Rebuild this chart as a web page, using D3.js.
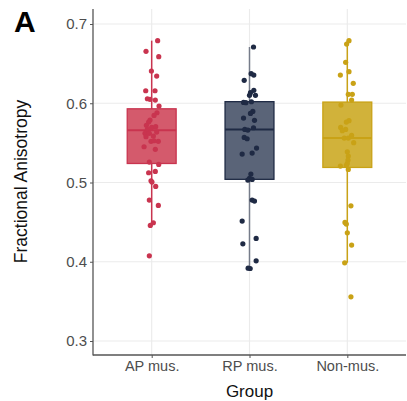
<!DOCTYPE html>
<html>
<head>
<meta charset="utf-8">
<script src="https://cdn.jsdelivr.net/npm/d3@7"></script>
<style>
  body { margin: 0; background: #fff; }
  text { font-family: "Liberation Sans", Arial, sans-serif; }
</style>
</head>
<body>
<script>
const w = 407;
const h = 401;

// groups and colours
const groups = ["AP mus.", "RP mus.", "Non-mus."];
const fills = ["#d45a6c", "#5a6478", "#d1b23a"];
const strokes = ["#c9344f", "#1f2a44", "#c9a216"];
const whiskerCols = ["#c9344f", "#767c8a", "#c9a216"];

// box statistics
const q1 = [0.524, 0.504, 0.519];
const med = [0.566, 0.567, 0.556];
const q3 = [0.593, 0.602, 0.6015];
const wLo = [0.446, 0.3915, 0.3987];
const wHi = [0.679, 0.671, 0.679];

// points: values and horizontal jitter (category units)
const apVals = [0.679, 0.6655, 0.6588, 0.6407, 0.6343, 0.6158, 0.6158, 0.6057, 0.6049, 0.604, 0.5965, 0.588, 0.5847, 0.5788, 0.5763, 0.5721, 0.5695, 0.5704, 0.567, 0.562, 0.562, 0.5636, 0.5578, 0.5586, 0.5519, 0.5519, 0.5527, 0.5451, 0.5418, 0.5258, 0.5228, 0.514, 0.5123, 0.5022, 0.5005, 0.495, 0.4778, 0.4711, 0.4492, 0.4458, 0.4075];
const apJit = [0.061, -0.058, 0.072, -0.003, 0.051, -0.061, 0.034, -0.044, -0.017, 0.037, 0.075, 0.054, 0.024, -0.017, -0.031, -0.054, 0, 0.041, -0.044, -0.068, -0.024, 0.051, -0.058, 0.017, 0.068, -0.007, 0.024, -0.078, 0.037, -0.024, 0.072, 0.037, -0.031, -0.007, 0.003, 0.041, -0.024, 0.068, 0.017, -0.014, -0.024];
const rpVals = [0.671, 0.6373, 0.6356, 0.6289, 0.6163, 0.6133, 0.61, 0.61, 0.6011, 0.6019, 0.6007, 0.5897, 0.5872, 0.5813, 0.5784, 0.567, 0.5662, 0.5691, 0.5569, 0.5552, 0.5434, 0.5359, 0.5371, 0.5106, 0.5051, 0.503, 0.5039, 0.4778, 0.4765, 0.4513, 0.4226, 0.4294, 0.4012, 0.3919, 0.3915];
const rpJit = [0.041, 0.017, 0.044, -0.054, 0.044, 0.01, 0.061, 0, -0.061, 0.02, -0.037, 0.034, 0.01, -0.061, 0.051, -0.048, -0.017, 0.041, -0.054, -0.024, 0.072, -0.075, 0.027, 0.014, 0, -0.017, 0.027, 0.027, 0.051, -0.075, -0.068, 0.068, 0.068, -0.014, 0.007];
const nmVals = [0.6747, 0.679, 0.6516, 0.6356, 0.6398, 0.6251, 0.6112, 0.6112, 0.604, 0.5977, 0.578, 0.5763, 0.5695, 0.567, 0.5653, 0.5594, 0.5561, 0.5561, 0.5502, 0.5388, 0.5333, 0.5283, 0.5241, 0.5207, 0.5215, 0.5165, 0.4706, 0.4496, 0.4475, 0.4365, 0.421, 0.3987, 0.3557];
const nmJit = [-0.007, 0.017, -0.017, -0.071, 0.017, 0.061, 0.01, 0.051, 0.044, -0.065, 0.017, -0.01, -0.068, -0.017, -0.051, 0.044, -0.031, 0.01, 0.065, 0, 0.01, 0.007, 0, -0.071, -0.01, 0.01, 0.037, -0.024, -0.01, 0, 0.044, -0.027, 0.037];

const yTicks = [0.3, 0.4, 0.5, 0.6, 0.7];

const plotLeft = 93, plotRight = 406, plotTop = 9, plotBottom = 355;

const svg = d3.select("body").append("svg").attr("width", w).attr("height", h);

// scales
const yScale = d3.scaleLinear().domain([0.3, 0.7]).range([341, 24]);
const xScale = d3.scaleLinear().domain([0.4, 3.6]).range([plotLeft, plotRight]);
const step = xScale(2) - xScale(1);

// grid
svg.append("g")
  .selectAll("line")
  .data(yTicks)
  .enter()
  .append("line")
  .attr("x1", plotLeft).attr("x2", plotRight)
  .attr("y1", (d) => yScale(d)).attr("y2", (d) => yScale(d))
  .attr("stroke", "#ebebeb").attr("stroke-width", 1.1);

svg.append("g")
  .selectAll("line")
  .data(groups)
  .enter()
  .append("line")
  .attr("x1", (d, i) => xScale(i + 1)).attr("x2", (d, i) => xScale(i + 1))
  .attr("y1", plotTop).attr("y2", plotBottom)
  .attr("stroke", "#ebebeb").attr("stroke-width", 1.1);

// whiskers
svg.append("g")
  .selectAll("line")
  .data(groups)
  .enter()
  .append("line")
  .attr("x1", (d, i) => xScale(i + 1)).attr("x2", (d, i) => xScale(i + 1))
  .attr("y1", (d, i) => yScale(wLo[i])).attr("y2", (d, i) => yScale(wHi[i]))
  .attr("stroke", (d, i) => whiskerCols[i]).attr("stroke-width", 1.5);

// boxes
const boxW = 0.5 * step;
svg.append("g")
  .selectAll("rect")
  .data(groups)
  .enter()
  .append("rect")
  .attr("x", (d, i) => xScale(i + 1) - boxW / 2)
  .attr("y", (d, i) => yScale(q3[i]))
  .attr("width", boxW)
  .attr("height", (d, i) => yScale(q1[i]) - yScale(q3[i]))
  .attr("fill", (d, i) => fills[i])
  .attr("stroke", (d, i) => strokes[i])
  .attr("stroke-width", 1.3);

svg.append("g")
  .selectAll("line")
  .data(groups)
  .enter()
  .append("line")
  .attr("x1", (d, i) => xScale(i + 1) - boxW / 2).attr("x2", (d, i) => xScale(i + 1) + boxW / 2)
  .attr("y1", (d, i) => yScale(med[i])).attr("y2", (d, i) => yScale(med[i]))
  .attr("stroke", (d, i) => strokes[i]).attr("stroke-width", 2);

// points
const allVals = [apVals, rpVals, nmVals];
const allJit = [apJit, rpJit, nmJit];
allVals.forEach(function (vals, g) {
  svg.append("g")
    .selectAll("circle")
    .data(vals)
    .enter()
    .append("circle")
    .attr("cx", (d, i) => xScale(g + 1 + allJit[g][i]))
    .attr("cy", (d) => yScale(d))
    .attr("r", 2.6)
    .attr("fill", strokes[g]);
});

// axes
const yAxis = d3.axisLeft(yScale).tickValues(yTicks).tickSize(3).tickPadding(3).tickFormat(d3.format(".1f"));
const gy = svg.append("g").attr("transform", "translate(" + plotLeft + ",0)").call(yAxis);
gy.select(".domain").remove();
gy.selectAll("line").attr("stroke", "#555");
gy.selectAll("text").attr("fill", "#4d4d4d").style("font-size", "15px");

const xAxis = d3.axisBottom(xScale).tickValues([1, 2, 3]).tickSize(3).tickPadding(2.5).tickFormat((d) => groups[d - 1]);
const gx = svg.append("g").attr("transform", "translate(0," + plotBottom + ")").call(xAxis);
gx.select(".domain").remove();
gx.selectAll("line").attr("stroke", "#555");
gx.selectAll("text").attr("fill", "#4d4d4d").style("font-size", "14.5px");

svg.append("line")
  .attr("x1", plotLeft).attr("x2", plotLeft).attr("y1", plotTop).attr("y2", plotBottom + 0.5)
  .attr("stroke", "#555").attr("stroke-width", 1.3);
svg.append("line")
  .attr("x1", plotLeft).attr("x2", plotRight).attr("y1", plotBottom).attr("y2", plotBottom)
  .attr("stroke", "#555").attr("stroke-width", 1.3);

// labels
svg.append("text")
  .attr("x", 249.5)
  .attr("y", 396.5)
  .attr("text-anchor", "middle")
  .style("font-size", "17px")
  .attr("fill", "#111")
  .text("Group");

svg.append("text")
  .attr("transform", "translate(27,181.5) rotate(-90)")
  .attr("text-anchor", "middle")
  .style("font-size", "17.5px")
  .attr("fill", "#111")
  .text("Fractional Anisotropy");

svg.append("text")
  .attr("x", 14)
  .attr("y", 32)
  .style("font-size", "30px")
  .attr("font-weight", "bold")
  .attr("fill", "#000")
  .text("A");
</script>
</body>
</html>
